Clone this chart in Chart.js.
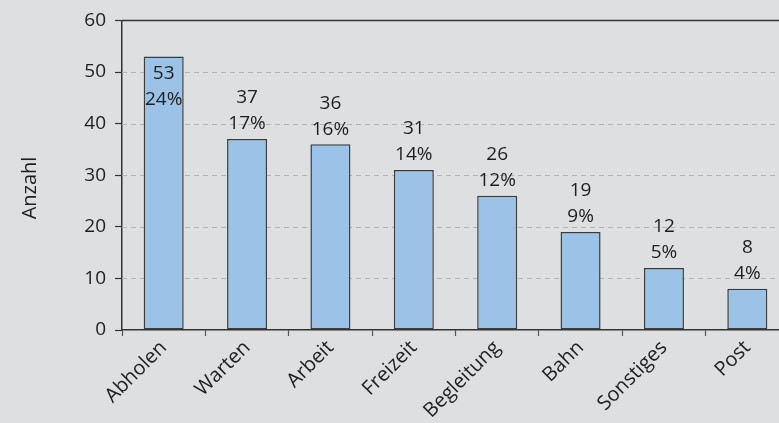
<!DOCTYPE html>
<html>
<head>
<meta charset="utf-8">
<script src="https://cdn.jsdelivr.net/npm/chart.js@4"></script>
<style>
  html, body { margin: 0; padding: 0; background: #dedfe1; overflow: hidden; }
  #wrap { width: 800px; height: 423px; }
</style>
</head>
<body>
<div id="wrap"><canvas id="myChart" width="800" height="423"></canvas></div>
<script>
const categories = ["Abholen", "Warten", "Arbeit", "Freizeit", "Begleitung", "Bahn", "Sonstiges", "Post"];
const counts = [53, 37, 36, 31, 26, 19, 12, 8];
const percents = ["24%", "17%", "16%", "14%", "12%", "9%", "5%", "4%"];
const yTicks = [0, 10, 20, 30, 40, 50, 60];

const textColor = "#1e1e1e";
const fontName = "'Open Sans', sans-serif";

// dashed grid, top border, y title
const backdrop = {
  id: "backdrop",
  beforeDatasetsDraw: function (chart) {
    const ctx = chart.ctx;
    const area = chart.chartArea;
    const y = chart.scales.y;
    ctx.save();
    ctx.strokeStyle = "#b4b4b4";
    ctx.lineWidth = 1;
    ctx.setLineDash([5, 4]);
    yTicks.forEach((v) => {
      if (v === 0 || v === 60) return;
      const py = Math.round(y.getPixelForValue(v)) + 0.5;
      ctx.beginPath();
      ctx.moveTo(area.left, py);
      ctx.lineTo(area.right, py);
      ctx.stroke();
    });
    ctx.setLineDash([]);
    ctx.strokeStyle = "#333333";
    ctx.lineWidth = 1.5;
    const top = y.getPixelForValue(60);
    ctx.beginPath();
    ctx.moveTo(area.left, top);
    ctx.lineTo(area.right, top);
    ctx.stroke();

    ctx.translate(30, 188);
    ctx.rotate(-Math.PI / 2);
    ctx.fillStyle = textColor;
    ctx.font = "20px " + fontName;
    ctx.textAlign = "center";
    ctx.textBaseline = "middle";
    ctx.fillText("Anzahl", 0, 0);
    ctx.restore();
  },
};

// value + percent labels
const barLabels = {
  id: "barLabels",
  afterDatasetsDraw: function (chart) {
    const ctx = chart.ctx;
    const meta = chart.getDatasetMeta(0);
    ctx.save();
    ctx.fillStyle = textColor;
    ctx.font = "19px " + fontName;
    ctx.textAlign = "center";
    ctx.textBaseline = "middle";
    meta.data.forEach((bar, i) => {
      let y1, y2;
      if (bar.y - 52 > chart.chartArea.top) {
        y1 = bar.y - 41;
        y2 = bar.y - 15;
      } else {
        y1 = bar.y + 17;
        y2 = bar.y + 43;
      }
      ctx.fillText(String(counts[i]), bar.x, y1);
      ctx.fillText(percents[i], bar.x, y2);
    });
    ctx.restore();
  },
};

new Chart(document.getElementById("myChart"), {
  type: "bar",
  data: {
    labels: categories,
    datasets: [
      {
        data: counts,
        backgroundColor: "#9bc2e7",
        borderColor: "#3c3c3c",
        borderWidth: 1.5,
        borderSkipped: false,
        barPercentage: 0.48,
        categoryPercentage: 1,
      },
    ],
  },
  options: {
    responsive: false,
    animation: false,
    layout: { padding: { left: 0, right: 11, top: 3, bottom: 0 } },
    plugins: {
      legend: { display: false },
      tooltip: { enabled: false },
    },
    scales: {
      x: {
        afterFit: function (scale) {
          scale.height = 93;
        },
        grid: {
          offset: true,
          drawOnChartArea: false,
          tickLength: 6,
          tickColor: "#555555",
          tickWidth: 1.2,
        },
        border: { color: "#333333", width: 1.5 },
        ticks: {
          color: textColor,
          font: { family: fontName, size: 20 },
          minRotation: 45,
          maxRotation: 45,
          padding: 0,
          autoSkip: false,
        },
      },
      y: {
        min: 0,
        max: 60,
        afterFit: function (scale) {
          scale.width = 122;
        },
        afterBuildTicks: function (scale) {
          scale.ticks = yTicks.map((v) => ({ value: v }));
        },
        grid: {
          drawOnChartArea: false,
          tickLength: 7,
          tickColor: "#333333",
          tickWidth: 1.2,
        },
        border: { color: "#333333", width: 1.5 },
        ticks: {
          color: textColor,
          font: { family: fontName, size: 19 },
          padding: 9,
        },
      },
    },
  },
  plugins: [backdrop, barLabels],
});
</script>
</body>
</html>
